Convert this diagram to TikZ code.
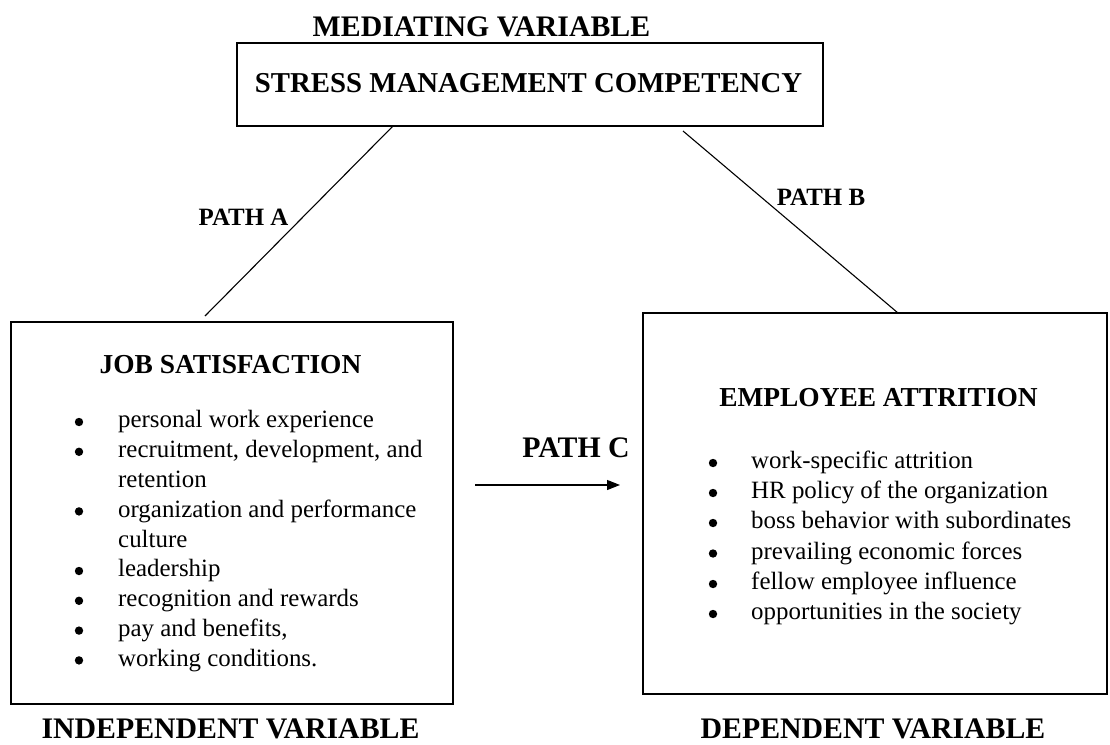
\documentclass[tikz,border=0pt]{standalone}
\usepackage{fontspec}
\setmainfont{Liberation Serif}
\usetikzlibrary{arrows.meta}
\tikzset{
  boxframe/.style={draw, line width=1.3pt, inner sep=0pt},
  hbig/.style={font=\bfseries\fontsize{29.8}{34}\selectfont, inner sep=0pt},
  hmid/.style={font=\bfseries\fontsize{27.4}{32}\selectfont, inner sep=0pt},
  hsmall/.style={font=\bfseries\fontsize{24.9}{29}\selectfont, inner sep=0pt},
  itemtext/.style={font=\fontsize{24.9}{29.8}\selectfont, anchor=west, inner sep=0pt, text height=17pt, text depth=5.4pt},
  conn/.style={line width=1.1pt},
}
\newcommand{\blt}[2]{\fill (#1,#2) circle (4.2);}
\begin{document}
\begin{tikzpicture}[x=1pt,y=-1pt]
\useasboundingbox (0,0) rectangle (1110,744);
% boxes
\node[boxframe, minimum width=586pt, minimum height=83pt] (smc) at (530,84.5) {};
\node[boxframe, minimum width=442pt, minimum height=382pt] (js) at (232,513) {};
\node[boxframe, minimum width=464pt, minimum height=381pt] (ea) at (875,503.5) {};
% titles
\node[hbig] (med) at (481.5,27) {MEDIATING VARIABLE};
\node[font=\bfseries\fontsize{28.8}{33}\selectfont, inner sep=0pt] (smct) at (528.5,83) {STRESS MANAGEMENT COMPETENCY};
\node[hmid] (jst) at (230.5,365) {JOB SATISFACTION};
\node[hmid] (eat) at (878.5,398) {EMPLOYEE ATTRITION};
\node[hbig] (ind) at (230.5,729) {INDEPENDENT VARIABLE};
\node[hbig] (dep) at (873,729) {DEPENDENT VARIABLE};
% path labels
\node[hsmall] (pa) at (243.5,217) {PATH A};
\node[hsmall] (pb) at (821,197) {PATH B};
\node[hbig] (pc) at (576,448) {PATH C};
% connectors
\coordinate (a1) at (393,126);
\coordinate (a2) at (205,316);
\coordinate (b1) at (683,131);
\coordinate (b2) at (898,313);
\coordinate (c1) at (475,485);
\coordinate (c2) at (620,485);
\draw[conn] (a1) -- (a2);
\draw[conn] (b1) -- (b2);
\draw[conn, -{Triangle[length=13pt,width=10pt]}] (c1) -- (c2);
% left list
\foreach \y/\t in {422/personal work experience, 451.8/{recruitment, development, and}, 481.6/retention, 511.4/organization and performance, 541.2/culture, 571/leadership, 600.8/recognition and rewards, 630.6/{pay and benefits,}, 660.4/working conditions.}{
  \node[itemtext] at (118,\y) {\t};
}
\foreach \y in {422,451.8,511.4,571,600.8,630.6,660.4}{\blt{79}{\y}}
% right list
\foreach \y/\t in {463/work-specific attrition, 493/HR policy of the organization, 523/boss behavior with subordinates, 553.5/prevailing economic forces, 584/fellow employee influence, 614/opportunities in the society}{
  \node[itemtext] at (751,\y) {\t};
  \blt{713}{\y}
}
\end{tikzpicture}
\end{document}
